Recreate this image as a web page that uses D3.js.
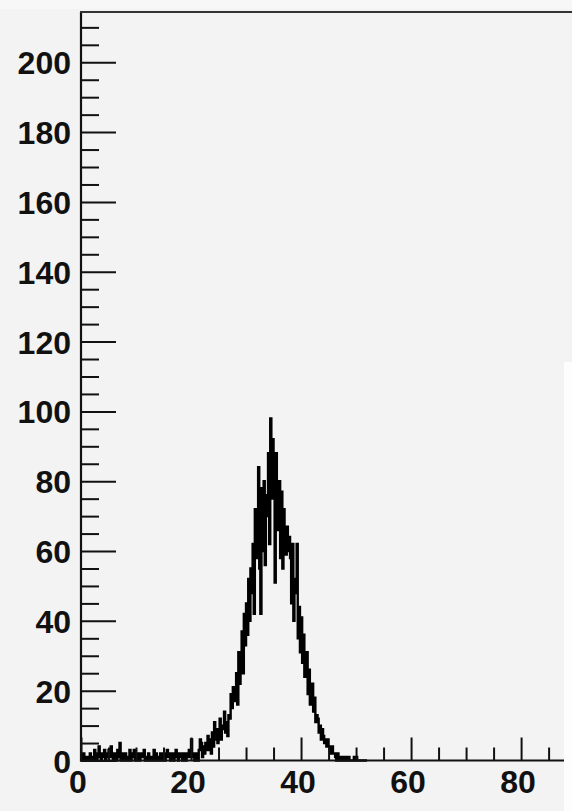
<!DOCTYPE html>
<html>
<head>
<meta charset="utf-8">
<script src="https://cdn.jsdelivr.net/npm/d3@7"></script>
<style>
  html, body { margin: 0; padding: 0; background: #f3f3f3; }
  svg { display: block; }
</style>
</head>
<body>
<svg id="chart" width="572" height="811"></svg>
<script>
// Histogram: fixed-width bins starting at binStart (five bins per unit)
const binStart = 0;
const binWidth = 0.2;
const counts = [
  1,0,2,0,1,     0,1,0,2,0,     1,0,3,1,0,     2,4,1,0,2,     1,3,0,2,1,
  3,1,4,2,0,     1,2,0,3,1,     5,0,2,1,0,     2,1,0,1,3,     0,2,1,3,0,
  1,0,2,0,1,     2,1,3,0,1,     0,2,0,1,0,     1,3,0,2,1,     0,1,2,0,2,
  1,0,2,3,1,     2,0,1,2,0,     1,3,1,0,2,     2,1,0,2,1,     0,2,1,3,1,
  6,1,2,0,1,     2,0,3,6,5,     1,4,2,5,3,     7,3,6,2,8,     4,11,6,9,5,
  8,12,6,10,9,   14,8,11,7,13,  12,19,15,21,17, 18,25,16,31,22, 28,37,25,42,33,
  45,36,52,40,55, 48,62,42,72,58, 66,84,55,42,78, 60,80,56,76,70, 88,62,98,75,92,
  86,51,88,66,79, 80,58,77,55,72, 66,59,67,60,64, 58,45,62,40,52, 48,62,35,44,31,
  41,28,36,24,30, 31,19,26,16,22, 22,14,18,11,13, 12,8,10,6,9,   7,5,6,4,6,
  4,3,2,4,2,     2,1,0,2,1,     0,1,1,0,0,     1,0,0,1,0,     0,0,0,1,0,
  1,0,0,0,0,     0,0,0,0,0
];

// Axis ranges and ticks
const xRange = [0, 87.8];
const yRange = [0, 214.4];
const xMajorTicks = [0, 20, 40, 60, 80];
const xMinorTicks = [5, 10, 15, 25, 30, 35, 45, 50, 55, 65, 70, 75, 85];
const yMajorTicks = [0, 20, 40, 60, 80, 100, 120, 140, 160, 180, 200];
const yMinorTicks = d3.range(5, 215, 5).filter(v => v % 20 !== 0);

const svg = d3.select("#chart");
const frame = { left: 81, right: 564, top: 12, bottom: 760.5 };

const x = d3.scaleLinear().domain(xRange).range([frame.left, frame.right]);
const y = d3.scaleLinear().domain(yRange).range([frame.bottom, frame.top]);

// pad background
svg.append("rect").attr("x", 0).attr("y", 0).attr("width", 572).attr("height", 811)
  .attr("fill", "#f3f3f3");
svg.append("rect").attr("x", 0).attr("y", 0).attr("width", 572).attr("height", 9)
  .attr("fill", "#f7f7f7");

// histogram outline
const pts = counts.map((c, i) => [binStart + i * binWidth, c]);
pts.push([binStart + counts.length * binWidth, counts[counts.length - 1]]);
const line = d3.line()
  .x(d => x(d[0]))
  .y(d => y(d[1]))
  .curve(d3.curveStepAfter);
svg.append("path")
  .attr("d", line(pts))
  .attr("fill", "none")
  .attr("stroke", "#000")
  .attr("stroke-width", 2.4)
  .attr("stroke-linejoin", "miter");

const font = "'Liberation Sans', Arial, Helvetica, sans-serif";

// y axis: ticks point into the frame
const yAxis = svg.append("g").attr("transform", `translate(${frame.left},0)`);
yAxis.call(d3.axisLeft(y).tickValues(yMinorTicks).tickSize(-18).tickFormat(""))
  .call(g => g.select(".domain").remove());
yAxis.append("g").call(d3.axisLeft(y).tickValues(yMajorTicks).tickSize(-35).tickPadding(10)
    .tickFormat(d3.format("d")))
  .call(g => g.select(".domain").remove())
  .call(g => g.selectAll("text")
    .attr("font-family", font).attr("font-weight", "bold").attr("font-size", 32)
    .attr("fill", "#111").attr("dy", "0.36em"));
yAxis.selectAll(".tick line").attr("stroke", "#111").attr("stroke-width", 2);
yAxis.append("line").attr("x1", 0).attr("x2", 0)
  .attr("y1", frame.top).attr("y2", frame.bottom + 1)
  .attr("stroke", "#111").attr("stroke-width", 2.2);

// x axis: ticks point up into the frame
const xAxis = svg.append("g").attr("transform", `translate(0,${frame.bottom})`);
xAxis.call(d3.axisBottom(x).tickValues(xMinorTicks).tickSize(-13).tickFormat(""))
  .call(g => g.select(".domain").remove());
xAxis.append("g").call(d3.axisBottom(x).tickValues(xMajorTicks).tickSize(-23).tickPadding(10)
    .tickFormat(d3.format("d")))
  .call(g => g.select(".domain").remove())
  .call(g => g.selectAll("text")
    .attr("font-family", font).attr("font-weight", "bold").attr("font-size", 32)
    .attr("fill", "#111").attr("dx", -3.5).attr("dy", "0.71em"));
xAxis.selectAll(".tick line").attr("stroke", "#111").attr("stroke-width", 2);
xAxis.append("line").attr("x1", frame.left - 1).attr("x2", frame.right)
  .attr("y1", 0).attr("y2", 0)
  .attr("stroke", "#111").attr("stroke-width", 2);

// top frame edge
svg.append("line").attr("x1", frame.left - 1).attr("x2", 572)
  .attr("y1", frame.top).attr("y2", frame.top)
  .attr("stroke", "#333").attr("stroke-width", 2);

// statistics box edge entering from the right
svg.append("rect").attr("x", frame.right).attr("y", 362)
  .attr("width", 572 - frame.right).attr("height", 811 - 362)
  .attr("fill", "#fdfdfd");
</script>
</body>
</html>
